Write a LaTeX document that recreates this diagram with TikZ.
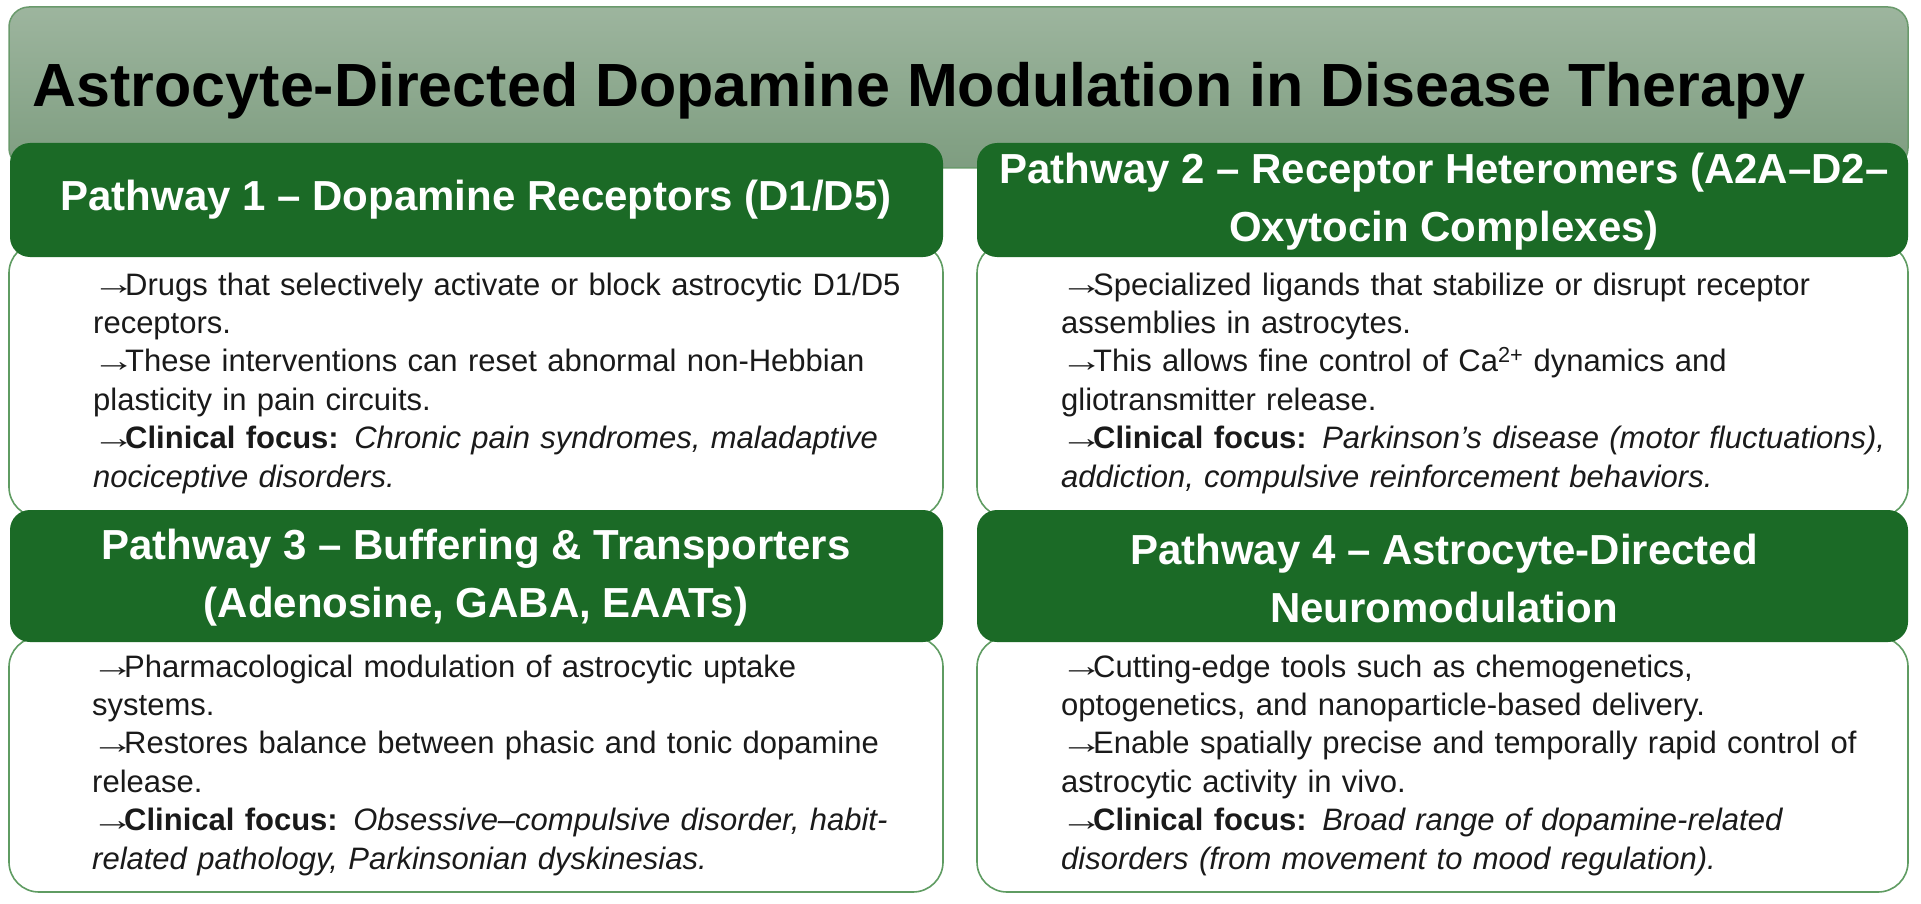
\documentclass[tikz,border=0pt]{standalone}
\usepackage{fontspec}
\usepackage{graphicx}
\setmainfont{Liberation Sans}
\definecolor{bannertop}{HTML}{9DB59E}
\definecolor{bannerbot}{HTML}{7E9D80}
\definecolor{bannerborder}{HTML}{6A9A6C}
\definecolor{headgreen}{HTML}{1B6A26}
\definecolor{bordergreen}{HTML}{5F9C62}
\definecolor{textdark}{HTML}{1A1A1A}
\newcommand\arrowmark{\makebox[32pt][l]{\hspace{-1pt}\raisebox{0.5pt}{\scalebox{1.4}[1]{→}}}}
\begin{document}
\begin{tikzpicture}[x=1pt,y=-1pt,
  banner/.style={top color=bannertop, bottom color=bannerbot, draw=bannerborder, line width=1.5pt, rounded corners=20pt},
  bodybox/.style={draw=bordergreen, line width=1.6pt, fill=white, rounded corners=30pt},
  headbox/.style={fill=headgreen, rounded corners=20pt},
  titletext/.style={text=black, font=\fontsize{61}{70}\selectfont\bfseries, inner sep=0pt, anchor=base},
  headtext/.style={text=white, font=\fontsize{42}{58}\selectfont\bfseries, align=center, inner sep=0pt},
  bodytext/.style={text=textdark, font=\fontsize{31}{38.4}\selectfont, align=left, text width=900pt, inner sep=0pt, anchor=base west},
]
\useasboundingbox (0,0) rectangle (1921,904);
\fill[white] (0,0) rectangle (1921,904);
% banner
\path[banner] (9,7) rectangle (1908,168);
\node[titletext] (title) at (919,107) {Astrocyte-Directed Dopamine Modulation in Disease Therapy};
% body boxes
\path[bodybox] (9,243) rectangle (943,517);
\path[bodybox] (977,243) rectangle (1908,517);
\path[bodybox] (9,637) rectangle (943,892);
\path[bodybox] (977,637) rectangle (1908,892);
% headers
\path[headbox] (10,143) rectangle (943,257);
\path[headbox] (977,143) rectangle (1908,257);
\path[headbox] (10,510) rectangle (943,642);
\path[headbox] (977,510) rectangle (1908,642);
\node[headtext] (h1) at (476,200) {Pathway 1 – Dopamine Receptors (D1/D5)};
\node[headtext] (h2) at (1444,202) {Pathway 2 – Receptor Heteromers (A2A–D2–\\Oxytocin Complexes)};
\node[headtext] (h3) at (476,578) {Pathway 3 – Buffering \& Transporters\\(Adenosine, GABA, EAATs)};
\node[headtext] (h4) at (1444,578) {Pathway 4 – Astrocyte-Directed\\Neuromodulation};
% body texts
\node[bodytext] (t1) at (93,295) {\arrowmark Drugs that selectively activate or block astrocytic D1/D5\\
receptors.\\
\arrowmark These interventions can reset abnormal non-Hebbian\\
plasticity in pain circuits.\\
\arrowmark\textbf{Clinical focus:} \textit{Chronic pain syndromes, maladaptive}\\
\textit{nociceptive disorders.}};
\node[bodytext] (t2) at (1061,295) {\arrowmark Specialized ligands that stabilize or disrupt receptor\\
assemblies in astrocytes.\\
\arrowmark This allows fine control of Ca\textsuperscript{2+} dynamics and\\
gliotransmitter release.\\
\arrowmark\textbf{Clinical focus:} \textit{Parkinson’s disease (motor fluctuations),}\\
\textit{addiction, compulsive reinforcement behaviors.}};
\node[bodytext] (t3) at (92,677) {\arrowmark Pharmacological modulation of astrocytic uptake\\
systems.\\
\arrowmark Restores balance between phasic and tonic dopamine\\
release.\\
\arrowmark\textbf{Clinical focus:} \textit{Obsessive–compulsive disorder, habit-}\\
\textit{related pathology, Parkinsonian dyskinesias.}};
\node[bodytext] (t4) at (1061,677) {\arrowmark Cutting-edge tools such as chemogenetics,\\
optogenetics, and nanoparticle-based delivery.\\
\arrowmark Enable spatially precise and temporally rapid control of\\
astrocytic activity in vivo.\\
\arrowmark\textbf{Clinical focus:} \textit{Broad range of dopamine-related}\\
\textit{disorders (from movement to mood regulation).}};
\end{tikzpicture}
\end{document}
